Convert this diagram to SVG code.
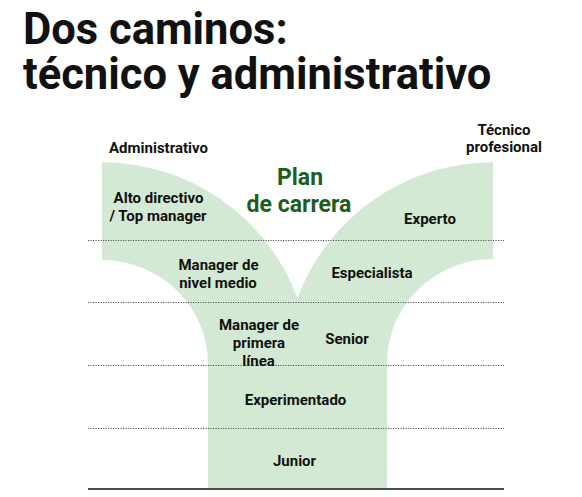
<svg xmlns="http://www.w3.org/2000/svg" width="582" height="497" viewBox="0 0 582 497">
<style>
.t{font-family:Roboto,"Liberation Sans",sans-serif;font-weight:bold;fill:#111;}
.title{font-size:43.5px;}
.lbl{font-size:15px;text-anchor:middle;}
.plan{font-size:23px;text-anchor:middle;fill:#1b5e20;}
.dot{stroke:#555;stroke-width:1;stroke-dasharray:1.2 1.3;fill:none;}
</style>
<rect width="582" height="497" fill="#fff"/>
<g id="title">
<text class="t title" x="23" y="44">Dos caminos:</text>
<text class="t title" x="23" y="89">técnico y administrativo</text>
</g>
<g id="shape">
<path fill="#d4e9d3" d="M102,162.3 A208.7,208.7 0 0 1 297.5,298 A208.7,208.7 0 0 1 493,162.3 L493,259 A106,104 0 0 0 387,363 L387,488 L208,488 L208,364 A106,104 0 0 0 102,260 Z"/>
</g>
<g id="guides">
<line class="dot" x1="88" y1="240.5" x2="504" y2="240.5"/>
<line class="dot" x1="88" y1="302.5" x2="504" y2="302.5"/>
<line class="dot" x1="88" y1="365.5" x2="504" y2="365.5"/>
<line class="dot" x1="88" y1="428.5" x2="504" y2="428.5"/>
<line x1="88" y1="489" x2="504" y2="489" stroke="#111" stroke-width="1.5"/>
</g>
<g id="connectors"/>
<g id="node-administrativo"><text class="t lbl" x="158.5" y="153">Administrativo</text></g>
<g id="node-tecnico"><text class="t lbl" x="504" y="135">Técnico</text><text class="t lbl" x="504" y="152">profesional</text></g>
<g id="node-plan"><text class="t plan" x="300" y="185">Plan</text><text class="t plan" x="299" y="212">de carrera</text></g>
<g id="node-alto"><text class="t lbl" x="158.5" y="203">Alto directivo</text><text class="t lbl" x="158" y="221">/ Top manager</text></g>
<g id="node-experto"><text class="t lbl" x="430" y="224">Experto</text></g>
<g id="node-manager-medio"><text class="t lbl" x="218.5" y="270">Manager de</text><text class="t lbl" x="218" y="288">nivel medio</text></g>
<g id="node-especialista"><text class="t lbl" x="372" y="278">Especialista</text></g>
<g id="node-manager-primera"><text class="t lbl" x="259" y="330">Manager de</text><text class="t lbl" x="259" y="348">primera</text><text class="t lbl" x="258.5" y="366">línea</text></g>
<g id="node-senior"><text class="t lbl" x="347" y="344">Senior</text></g>
<g id="node-experimentado"><text class="t lbl" x="295.5" y="405">Experimentado</text></g>
<g id="node-junior"><text class="t lbl" x="294.5" y="466">Junior</text></g>
</svg>
